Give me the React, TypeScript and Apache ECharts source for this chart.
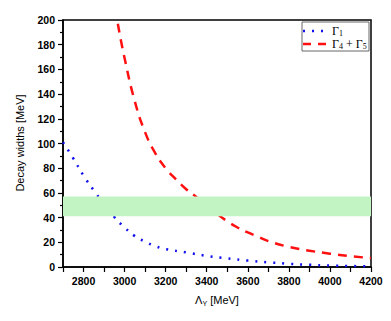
import React, { useEffect, useRef } from "react";
import * as echarts from "echarts";

const gamma1X = [2700, 2750, 2800, 2850, 2900, 2950, 3000, 3050, 3100, 3150, 3200, 3300, 3400, 3500, 3600, 3700, 3800, 3900, 4000, 4100, 4200];
const gamma1Y = [101, 88, 74, 62, 51, 40.5, 32, 25, 20.5, 16.8, 14.5, 11.8, 9, 7, 5.2, 3.8, 2.6, 1.8, 1.2, 0.8, 0.5];

const gamma45X = [2967, 3000, 3050, 3100, 3150, 3200, 3250, 3300, 3350, 3400, 3450, 3500, 3550, 3600, 3650, 3700, 3800, 3900, 4000, 4100, 4200];
const gamma45Y = [197, 169, 134, 109, 92, 80, 71, 63, 56.5, 49, 43, 37, 32, 28, 24.5, 21, 16.3, 13.2, 10.8, 8.8, 7.2];

const bandRange = [41, 57];

const FONT = "'Liberation Sans', Arial, sans-serif";
const SERIF = "'Liberation Serif', 'Times New Roman', serif";

export default function App() {
  const ref = useRef<HTMLDivElement>(null);
  useEffect(() => {
    if (!ref.current) return;
    const chart = echarts.init(ref.current, null, { renderer: "svg" });
    const left = 63, top = 20, right = 20, bottom = 54;
    chart.setOption({
      animation: false,
      grid: { left, top, right, bottom, show: true, borderColor: "#000", borderWidth: 1.5, backgroundColor: "transparent" },
      xAxis: {
        type: "value",
        min: 2700,
        max: 4200,
        interval: 100,
        axisLine: { lineStyle: { color: "#000", width: 1.5 } },
        axisTick: { length: 5, lineStyle: { color: "#000", width: 1.2 } },
        splitLine: { show: false },
        axisLabel: {
          color: "#000",
          fontFamily: FONT,
          fontWeight: "bold",
          fontSize: 10.5,
          margin: 8,
          formatter: (v: number) => (v % 200 === 0 && v > 2700 ? String(v) : ""),
        },
      },
      yAxis: {
        type: "value",
        min: 0,
        max: 200,
        interval: 20,
        axisLine: { show: true, lineStyle: { color: "#000", width: 1.5 } },
        axisTick: { show: true, length: 5, lineStyle: { color: "#000", width: 1.2 } },
        minorTick: { show: true, splitNumber: 2, length: 3, lineStyle: { color: "#000", width: 1.2 } },
        splitLine: { show: false },
        axisLabel: { color: "#000", fontFamily: FONT, fontWeight: "bold", fontSize: 10.5, margin: 8 },
      },
      series: [
        {
          name: "Γ1",
          type: "line",
          smooth: true,
          showSymbol: false,
          data: gamma1X.map((x, i) => [x, gamma1Y[i]]),
          lineStyle: { color: "#1010ee", width: 2.5, type: [2, 7], cap: "butt" },
          z: 2,
        },
        {
          name: "Γ4+Γ5",
          type: "line",
          smooth: true,
          showSymbol: false,
          data: gamma45X.map((x, i) => [x, gamma45Y[i]]),
          lineStyle: { color: "#ff1010", width: 2.5, type: [9, 7], cap: "butt" },
          z: 2,
        },
        {
          name: "band",
          type: "line",
          data: [],
          z: 5,
          markArea: {
            silent: true,
            z: 5,
            itemStyle: { color: "#c2f3c2", opacity: 1 },
            data: [[{ yAxis: bandRange[0] }, { yAxis: bandRange[1] }]],
          },
        },
      ],
      graphic: [
        {
          type: "text",
          x: 20,
          y: 143,
          rotation: Math.PI / 2,
          style: { text: "Decay widths [MeV]", font: `11px ${FONT}`, fill: "#000", align: "center", verticalAlign: "middle" },
        },
        {
          type: "text",
          x: 217,
          y: 300,
          style: {
            text: "{a|Λ}{s|Υ}{a| [MeV]}",
            align: "center",
            verticalAlign: "middle",
            rich: {
              a: { font: `11px ${FONT}`, fill: "#000" },
              s: { font: `7px ${FONT}`, fill: "#000", padding: [6, 0, 0, 0] },
            },
          },
        },
        {
          type: "rect",
          shape: { x: 302, y: 22, width: 67, height: 29 },
          style: { fill: "#fff", stroke: "#666", lineWidth: 1 },
          z: 10,
        },
        {
          type: "line",
          shape: { x1: 303, y1: 31, x2: 325, y2: 31 },
          style: { stroke: "#1010ee", lineWidth: 2.5, lineDash: [2, 7] },
          z: 11,
        },
        {
          type: "line",
          shape: { x1: 303, y1: 44, x2: 326, y2: 44 },
          style: { stroke: "#ff1010", lineWidth: 2.5, lineDash: [8, 7] },
          z: 11,
        },
        {
          type: "text",
          x: 332,
          y: 31,
          z: 11,
          style: {
            text: "{a|Γ}{s|1}",
            verticalAlign: "middle",
            rich: {
              a: { font: `12px ${SERIF}`, fill: "#000" },
              s: { font: `8px ${SERIF}`, fill: "#000", padding: [5, 0, 0, 0] },
            },
          },
        },
        {
          type: "text",
          x: 332,
          y: 44,
          z: 11,
          style: {
            text: "{a|Γ}{s|4}{a| + Γ}{s|5}",
            verticalAlign: "middle",
            rich: {
              a: { font: `12px ${SERIF}`, fill: "#000" },
              s: { font: `8px ${SERIF}`, fill: "#000", padding: [5, 0, 0, 0] },
            },
          },
        },
      ],
    });
    return () => chart.dispose();
  }, []);
  return <div ref={ref} style={{ width: 391, height: 321, position: "absolute", left: 0, top: 0 }} />;
}
